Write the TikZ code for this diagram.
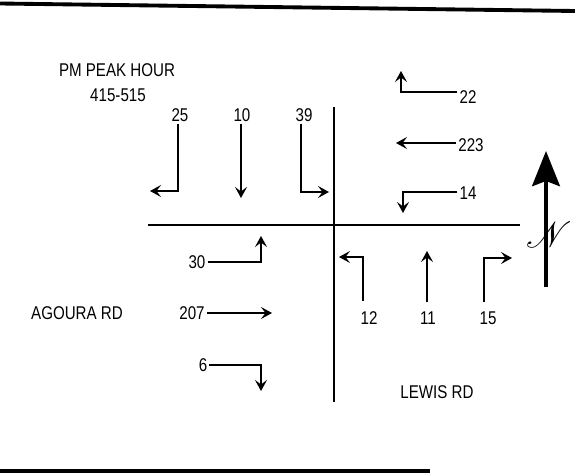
\documentclass[tikz,border=0pt]{standalone}
\usepackage{fontspec}
\setmainfont{Liberation Sans}[FakeStretch=0.82]
\usepackage{amsmath}
\usepackage{mathrsfs}
\usepackage{tikz}
\usetikzlibrary{arrows.meta, positioning}

\begin{document}
\begin{tikzpicture}[
  x=0.02cm, y=-0.02cm,
  vol/.style={font=\fontsize{10.5}{11}\selectfont, inner sep=1pt},
  road/.style={font=\fontsize{10.5}{11}\selectfont, inner sep=1pt},
  street/.style={line width=1.4pt},
  frame/.style={line width=2.2pt},
  move/.style={line width=0.9pt, -{Stealth[length=2.2mm, width=2.4mm, inset=0.9mm]}},
  northarrow/.style={line width=2.8pt, -{Stealth[length=7mm, width=5.5mm, inset=1mm]}}
]
\useasboundingbox (0,0) rectangle (575,473);

% frame
\draw[frame] (0,3.5) -- (575,11);
\draw[frame] (0,471) -- (430,471);

% title
\node[road] (title) at (117,70) {PM PEAK HOUR};
\node[road] (period) at (118,95) {415-515};

% streets
\draw[street] (334,107) -- (334,402);
\draw[street] (148,225) -- (520,225);
\node[road] (agoura) at (77,313) {AGOURA RD};
\node[road] (lewis) at (437,392) {LEWIS RD};

% southbound
\node[vol] (sbl) at (180,115) {25};
\node[vol] (sbt) at (242,115) {10};
\node[vol] (sbr) at (304,115) {39};
\coordinate (sbl1) at (178,191);
\coordinate (sbr1) at (301,192);
\draw[move] (sbl.south -| sbl1) -- (sbl1) -- (150,191);
\draw[move] (sbt.south -| 241,0) -- (241,198);
\draw[move] (sbr.south -| sbr1) -- (sbr1) -- (329,192);

% westbound
\node[vol] (wbr) at (468,97) {22};
\node[vol] (wbt) at (471,145) {223};
\node[vol] (wbl) at (468,193) {14};
\coordinate (wbr1) at (401,92);
\coordinate (wbl1) at (403,192);
\draw[move] (wbr.west |- wbr1) -- (wbr1) -- (401,71);
\draw[move] (wbt.west |- 0,143) -- (396,143);
\draw[move] (wbl.west |- wbl1) -- (wbl1) -- (403,213);

% eastbound
\node[vol] (ebl) at (197,262) {30};
\node[vol] (ebt) at (192,313) {207};
\node[vol] (ebr) at (203,365) {6};
\coordinate (ebl1) at (261,262);
\coordinate (ebr1) at (261,365);
\draw[move] (ebl.east |- ebl1) -- (ebl1) -- (261,236);
\draw[move] (ebt.east |- 0,313) -- (272,313);
\draw[move] (ebr.east |- ebr1) -- (ebr1) -- (261,391);

% northbound
\node[vol] (nbl) at (369,318) {12};
\node[vol] (nbt) at (428,318) {11};
\node[vol] (nbr) at (488,318) {15};
\coordinate (nbl1) at (363,257);
\coordinate (nbr1) at (484,258);
\draw[move] (363,301) -- (nbl1) -- (339,257);
\draw[move] (427,302) -- (427,251);
\draw[move] (484,302) -- (nbr1) -- (512,258);

% north arrow
\coordinate (nfoot) at (546,287);
\draw[northarrow] (nfoot) -- (546,151);
\node (north) at (549,235) {\fontsize{22}{22}\selectfont$\mathscr{N}$};

\end{tikzpicture}
\end{document}
